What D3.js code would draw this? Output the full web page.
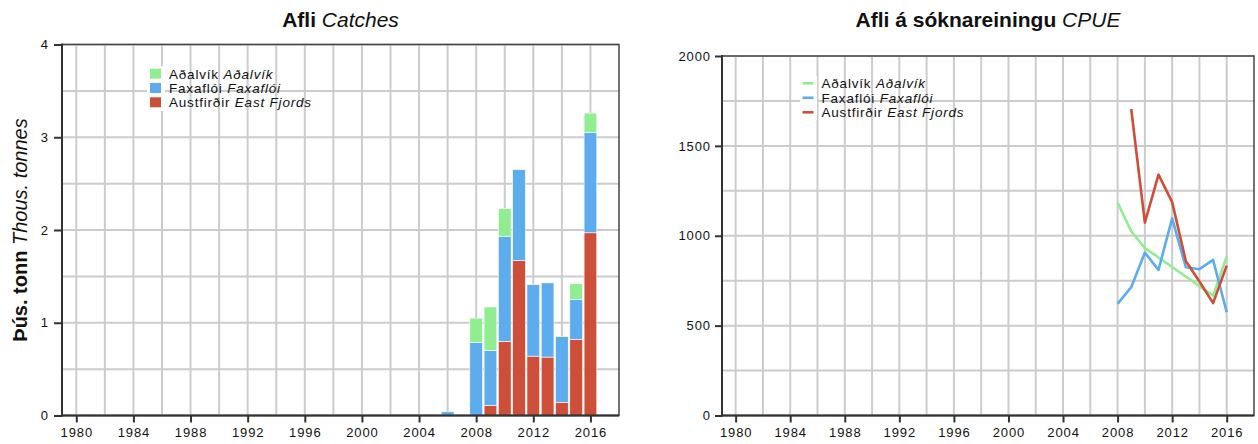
<!DOCTYPE html>
<html><head><meta charset="utf-8">
<script src="https://cdn.jsdelivr.net/npm/d3@7"></script>
<style>
body{margin:0;background:#fff;}
svg{display:block;font-family:"Liberation Sans",Arial,Helvetica,sans-serif;}
</style></head><body>
<svg id="c" width="1258" height="444"></svg>
<script>
// ---- data ----
const years = [2006, 2008, 2009, 2010, 2011, 2012, 2013, 2014, 2015, 2016];
const catchEast = [0, 0, 0.11, 0.80, 1.67, 0.64, 0.63, 0.14, 0.82, 1.97];
const catchFaxa = [0.04, 0.79, 0.59, 1.13, 0.98, 0.77, 0.80, 0.71, 0.43, 1.08];
const catchAdal = [0, 0.26, 0.47, 0.30, 0, 0, 0, 0, 0.17, 0.21];

const cpueYears = [2008, 2009, 2010, 2011, 2012, 2013, 2014, 2015, 2016];
const cpueAdal = [1184, 1025, 931, 879, 826, 773, 720, 667, 884];
const cpueFaxa = [621, 714, 906, 810, 1097, 825, 814, 866, 575];
const cpueEast = [null, 1705, 1073, 1340, 1187, 860, 745, 625, 834];

const seriesNames = [["Aðalvík", "Aðalvík"], ["Faxaflói", "Faxaflói"], ["Austfirðir", "East Fjords"]];
const seriesColors = ["#90EE90", "#5CACEE", "#CD4F39"];
const xTicks = d3.range(1980, 2017, 4);
const xGrid = d3.range(1980, 2018, 2);
const yTicksL = [0, 1, 2, 3, 4];
const yGridL = d3.range(0, 4.01, 0.5);
const yTicksR = [0, 500, 1000, 1500, 2000];
const yGridR = d3.range(0, 2001, 250);

const svg = d3.select("#c");
const gridCol = "#cccccc", axisCol = "#333333";

function panel(x0, x1, y0, y1, yMax, ygrid) {
  const x = d3.scaleLinear().domain([1979, 2018]).range([x0, x1]);
  const y = d3.scaleLinear().domain([0, yMax]).range([y1, y0]);
  const g = svg.append("g");
  g.append("g").selectAll("line").data(xGrid).join("line")
    .attr("x1", d => x(d)).attr("x2", d => x(d)).attr("y1", y0).attr("y2", y1)
    .attr("stroke", gridCol).attr("stroke-width", 2);
  g.append("g").selectAll("line").data(ygrid).join("line")
    .attr("x1", x0).attr("x2", x1).attr("y1", d => y(d)).attr("y2", d => y(d))
    .attr("stroke", gridCol).attr("stroke-width", 2);
  return {x, y, g};
}

function frame(p, x0, x1, y0, y1, ytk, tickLen, pad) {
  const {x, y} = p;
  const g = svg.append("g");
  g.append("rect").attr("x", x0).attr("y", y0).attr("width", x1 - x0).attr("height", y1 - y0)
    .attr("fill", "none").attr("stroke", "#444").attr("stroke-width", 1.5);
  const ax = g.append("g").attr("transform", `translate(0,${y1})`)
    .call(d3.axisBottom(x).tickValues(xTicks).tickFormat(d3.format("d")).tickSize(7).tickPadding(5));
  const ay = g.append("g").attr("transform", `translate(${x0},0)`)
    .call(d3.axisLeft(y).tickValues(ytk).tickFormat(d3.format("d")).tickSize(tickLen).tickPadding(pad));
  [ax, ay].forEach(a => {
    a.select(".domain").remove();
    a.selectAll("line").attr("stroke", axisCol).attr("stroke-width", 2);
    a.selectAll("text").attr("font-size", 13).attr("letter-spacing", 0.9).attr("fill", "#111")
      .attr("font-family", '"Liberation Sans",Arial,sans-serif');
  });
  g.append("line").attr("x1", x0).attr("x2", x0).attr("y1", y0 - 1).attr("y2", y1 + 1)
    .attr("stroke", axisCol).attr("stroke-width", 2);
  g.append("line").attr("x1", x0 - 1).attr("x2", x1).attr("y1", y1).attr("y2", y1)
    .attr("stroke", axisCol).attr("stroke-width", 2);
}

function legendText(g, x, y, n) {
  const t = g.append("text").attr("x", x).attr("y", y).attr("font-size", 13.5)
    .attr("letter-spacing", 0.8).attr("fill", "#111");
  t.append("tspan").text(n[0] + " ");
  t.append("tspan").attr("font-style", "italic").text(n[1]);
}

// ---- left panel: catches ----
const L = {x0: 62, x1: 619, y0: 44.5, y1: 415.5};
const pL = panel(L.x0, L.x1, L.y0, L.y1, 4, yGridL);
const bw = (pL.x(1) - pL.x(0)) * 0.89;
const stackData = years.map((yr, i) => ({year: yr, east: catchEast[i], faxa: catchFaxa[i], adal: catchAdal[i]}));
const stack = d3.stack().keys(["east", "faxa", "adal"])(stackData);
const colorByKey = {east: seriesColors[2], faxa: seriesColors[1], adal: seriesColors[0]};
pL.g.append("g").selectAll("g").data(stack).join("g")
  .attr("fill", d => colorByKey[d.key])
  .selectAll("rect").data(d => d.filter(s => s[1] - s[0] > 0)).join("rect")
  .attr("x", d => pL.x(d.data.year) - bw / 2)
  .attr("width", bw)
  .attr("y", d => pL.y(d[1]))
  .attr("height", d => pL.y(d[0]) - pL.y(d[1]))
  .attr("stroke", "#fff").attr("stroke-width", 0.6);
frame(pL, L.x0, L.x1, L.y0, L.y1, yTicksL, 8, 5);

// legend left
const legL = svg.append("g");
legL.append("rect").attr("x", 147).attr("y", 66).attr("width", 18).attr("height", 45).attr("fill", "#fff");
seriesNames.forEach((n, i) => {
  const cy = 73.7 + i * 14.3;
  legL.append("rect").attr("x", 150).attr("y", cy - 5).attr("width", 11).attr("height", 10)
    .attr("fill", seriesColors[i]);
  legendText(legL, 169, cy + 5, n);
});

// title left
const tL = svg.append("text").attr("x", (L.x0 + L.x1) / 2).attr("y", 27).attr("text-anchor", "middle")
  .attr("font-size", 21).attr("fill", "#111");
tL.append("tspan").attr("font-weight", "bold").text("Afli ");
tL.append("tspan").attr("font-style", "italic").text("Catches");

// y label
const yl = svg.append("text").attr("transform", `translate(27,${(L.y0 + L.y1) / 2}) rotate(-90)`)
  .attr("text-anchor", "middle").attr("font-size", 20).attr("fill", "#111");
yl.append("tspan").attr("font-weight", "bold").text("Þús. tonn ");
yl.append("tspan").attr("font-style", "italic").text("Thous. tonnes");

// ---- right panel: CPUE ----
const R = {x0: 722, x1: 1254, y0: 56, y1: 415.5};
const pR = panel(R.x0, R.x1, R.y0, R.y1, 2000, yGridR);
const lineGen = d3.line().defined(d => d[1] != null).x(d => pR.x(d[0])).y(d => pR.y(d[1]));
[cpueAdal, cpueFaxa, cpueEast].forEach((s, i) => {
  pR.g.append("path").datum(cpueYears.map((yr, j) => [yr, s[j]]))
    .attr("d", lineGen).attr("fill", "none").attr("stroke", seriesColors[i])
    .attr("stroke-width", 2.6).attr("stroke-linejoin", "round");
});
frame(pR, R.x0, R.x1, R.y0, R.y1, yTicksR, 7, 4);

// legend right
const legR = svg.append("g");
legR.append("rect").attr("x", 800).attr("y", 76).attr("width", 17).attr("height", 44).attr("fill", "#fff");
seriesNames.forEach((n, i) => {
  const cy = 83.3 + i * 14.5;
  legR.append("line").attr("x1", 802.5).attr("x2", 813.5).attr("y1", cy).attr("y2", cy)
    .attr("stroke", seriesColors[i]).attr("stroke-width", 2.6);
  legendText(legR, 821.5, cy + 5, n);
});

const tR = svg.append("text").attr("x", (R.x0 + R.x1) / 2).attr("y", 27).attr("text-anchor", "middle")
  .attr("font-size", 21).attr("fill", "#111");
tR.append("tspan").attr("font-weight", "bold").text("Afli á sóknareiningu ");
tR.append("tspan").attr("font-style", "italic").text("CPUE");
</script>
</body></html>
